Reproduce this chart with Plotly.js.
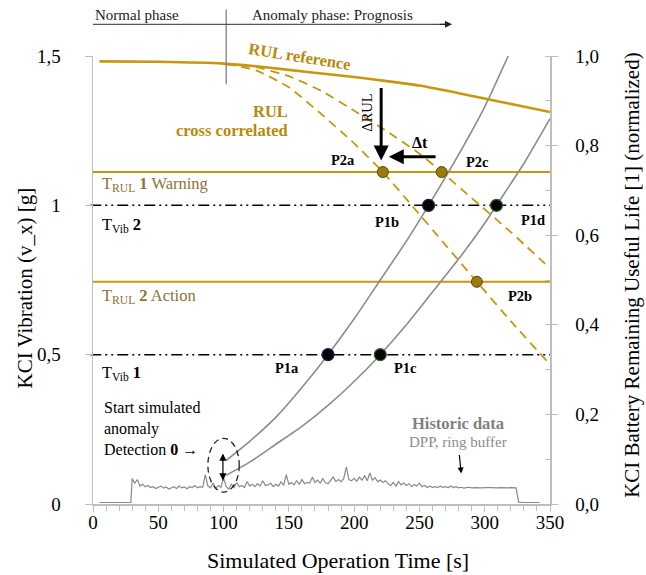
<!DOCTYPE html>
<html>
<head>
<meta charset="utf-8">
<script src="https://cdn.plot.ly/plotly-3.0.1.min.js"></script>
<style>html,body{margin:0;padding:0;background:#fff;}#chart{width:646px;height:575px;}</style>
</head>
<body>
<div id="chart"></div>
<script>
// ---- Data ----
const refTime = [5, 50, 100, 125, 150, 175, 200, 225, 250, 275, 300, 325, 350];
const rulReference = [0.988, 0.987, 0.983, 0.977, 0.969, 0.961, 0.953, 0.944, 0.934, 0.92, 0.905, 0.89, 0.875];

const crossATime = [102, 125, 150, 175, 200, 222, 244, 270, 294, 320, 348];
const rulCrossA = [0.982, 0.968, 0.93, 0.87, 0.805, 0.741, 0.667, 0.578, 0.496, 0.408, 0.318];

const crossBTime = [102, 125, 150, 175, 200, 225, 250, 267, 290, 320, 350];
const rulCrossB = [0.982, 0.975, 0.955, 0.922, 0.878, 0.832, 0.782, 0.741, 0.683, 0.607, 0.526];

const vibATime = [102, 120, 140, 160, 180, 200, 220, 240, 257, 280, 300, 318];
const vibA = [0.146, 0.21, 0.29, 0.39, 0.5, 0.62, 0.75, 0.88, 1.0, 1.17, 1.33, 1.5];

const vibBTime = [102, 120, 140, 160, 180, 200, 220, 240, 260, 280, 300, 309, 330, 350];
const vibB = [0.096, 0.14, 0.2, 0.26, 0.33, 0.41, 0.5, 0.6, 0.71, 0.82, 0.94, 1.0, 1.14, 1.29];

const histTime = [5, 29, 30, 32, 34, 36, 38, 40, 42, 44, 46, 48, 50, 52, 54, 56, 58, 60, 62, 64, 66, 68, 70,
  72, 74, 76, 78, 80, 82, 84, 86, 88, 90, 92, 94, 96, 98, 100, 102, 104, 106, 108, 110, 112, 114, 116, 118,
  120, 122, 124, 126, 128, 130, 132, 134, 136, 138, 140, 142, 144, 146, 148, 150, 152, 154, 156, 158, 160,
  162, 164, 166, 168, 170, 172, 174, 176, 178, 180, 182, 184, 186, 188, 190, 192, 194, 196, 198, 200, 202,
  204, 206, 208, 210, 212, 214, 216, 218, 220, 222, 224, 226, 228, 230, 232, 234, 236, 238, 240, 242, 244,
  246, 248, 250, 252, 254, 256, 258, 260, 262, 264, 266, 268, 270, 272, 274, 276, 278, 280, 282, 284, 286,
  288, 290, 292, 294, 296, 298, 300, 302, 304, 306, 308, 310, 312, 314, 316, 318, 320, 322, 324, 326, 330, 342];
const histVib = [0.005, 0.005, 0.085, 0.07, 0.082, 0.06, 0.066, 0.058, 0.062, 0.055, 0.058, 0.052, 0.056, 0.06,
  0.053, 0.057, 0.05, 0.055, 0.058, 0.052, 0.06, 0.054, 0.057, 0.051, 0.058, 0.055, 0.062, 0.054, 0.058, 0.056,
  0.098, 0.06, 0.055, 0.07, 0.052, 0.062, 0.056, 0.088, 0.058, 0.05, 0.066, 0.055, 0.072, 0.058, 0.062, 0.055,
  0.075, 0.06, 0.066, 0.058, 0.068, 0.06, 0.078, 0.062, 0.064, 0.07, 0.058, 0.066, 0.06, 0.074, 0.062, 0.098,
  0.066, 0.072, 0.064, 0.078, 0.066, 0.082, 0.068, 0.072, 0.07, 0.09, 0.072, 0.08, 0.07, 0.085, 0.072, 0.068,
  0.08, 0.09, 0.075, 0.082, 0.075, 0.085, 0.124, 0.082, 0.078, 0.086, 0.076, 0.09, 0.08, 0.095, 0.078, 0.104,
  0.08, 0.088, 0.075, 0.08, 0.072, 0.078, 0.068, 0.062, 0.072, 0.06, 0.075, 0.064, 0.07, 0.062, 0.068, 0.058,
  0.065, 0.06, 0.07, 0.058, 0.062, 0.055, 0.06, 0.056, 0.058, 0.055, 0.06, 0.056, 0.058, 0.054, 0.06, 0.055,
  0.058, 0.054, 0.056, 0.053, 0.055, 0.056, 0.054, 0.055, 0.055, 0.054, 0.055, 0.054, 0.055, 0.055, 0.054,
  0.055, 0.054, 0.055, 0.054, 0.055, 0.054, 0.055, 0.054, 0.054, 0.006, 0.005, 0.005];

const p1Time = [180, 257, 220, 309];
const p1Vib = [0.5, 1.0, 0.5, 1.0];
const p2Time = [222, 294, 267];
const p2Rul = [0.741, 0.496, 0.741];

const thresholdVib = [0.5, 1.0];
const thresholdRul = [0.741, 0.496];

// ---- Styles ----
const GOLD = '#C9970E';
const GOLDTXT = '#B8890A';
const OLIVE = '#8A7436';
const GRAY = '#8c8c8c';
const AXGRAY = '#bfbfbf';
const FONT = 'Liberation Serif, Times New Roman, serif';

const traces = [
  {x: histTime, y: histVib, type: 'scatter', mode: 'lines', line: {color: '#8a8a8a', width: 1.2}, hoverinfo: 'skip'},
  {x: vibATime, y: vibA, type: 'scatter', mode: 'lines', line: {color: GRAY, width: 1.6, shape: 'spline', smoothing: 0.6}},
  {x: vibBTime, y: vibB, type: 'scatter', mode: 'lines', line: {color: GRAY, width: 1.6, shape: 'spline', smoothing: 0.6}},
  {x: p1Time, y: p1Vib, type: 'scatter', mode: 'markers',
   marker: {color: '#050505', size: 12, line: {color: ['#1c1c4a', '#1c1c4a', '#2f5f2f', '#2f5f2f'], width: 1.2}}},
  {x: refTime, y: rulReference, yaxis: 'y2', type: 'scatter', mode: 'lines', line: {color: GOLD, width: 2.6, shape: 'spline', smoothing: 0.6}},
  {x: crossATime, y: rulCrossA, yaxis: 'y2', type: 'scatter', mode: 'lines', line: {color: GOLD, width: 1.8, dash: '9px,6px', shape: 'spline', smoothing: 0.5}},
  {x: crossBTime, y: rulCrossB, yaxis: 'y2', type: 'scatter', mode: 'lines', line: {color: GOLD, width: 1.8, dash: '9px,6px', shape: 'spline', smoothing: 0.5}},
  {x: p2Time, y: p2Rul, yaxis: 'y2', type: 'scatter', mode: 'markers',
   marker: {color: '#9C7A0C', size: 11, line: {color: '#5a4608', width: 1}}}
];

const shapes = [];
thresholdVib.forEach(v => shapes.push({type: 'line', xref: 'paper', yref: 'y', x0: -0.006, x1: 1, y0: v, y1: v,
  line: {color: '#000', width: 1.5, dash: '11px,4px,2px,4px,2px,4px'}, layer: 'below'}));
thresholdRul.forEach(v => shapes.push({type: 'line', xref: 'paper', yref: 'y2', x0: 0, x1: 1, y0: v, y1: v,
  line: {color: GOLD, width: 2}, layer: 'below'}));
// phase header lines
shapes.push({type: 'line', xref: 'x', yref: 'paper', x0: 102, x1: 102, y0: 0.937, y1: 1.104, line: {color: '#777', width: 1.2}});
shapes.push({type: 'line', xref: 'x', yref: 'paper', x0: 0, x1: 272, y0: 1.0708, y1: 1.0708, line: {color: '#555', width: 1.2}});
// ellipse around anomaly start
shapes.push({type: 'circle', xref: 'x', yref: 'y', x0: 88, x1: 112, y0: 0.04, y1: 0.22, line: {color: '#222', width: 1.3, dash: '6px,4px'}});

const f = (size, color, extra) => Object.assign({family: FONT, size: size, color: color || '#000'}, extra || {});

const annotations = [
  // axis titles
  {xref: 'paper', yref: 'paper', x: -0.149, y: 0.483, xanchor: 'center', yanchor: 'middle', text: 'KCI Vibration (v_x) [g]', textangle: -90, showarrow: false, font: f(21, '#000')},
  {xref: 'paper', yref: 'paper', x: 1.179, y: 0.511, xanchor: 'center', yanchor: 'middle', text: 'KCI Battery Remaining Useful Life [1] (normalized)', textangle: -90, showarrow: false, font: f(21, '#000')},
  {xref: 'paper', yref: 'paper', x: 0.536, y: -0.127, xanchor: 'center', yanchor: 'middle', text: 'Simulated Operation Time [s]', showarrow: false, font: f(22, '#000')},
  // header
  {xref: 'x', yref: 'paper', x: 0, y: 1.091, xanchor: 'left', yanchor: 'middle', text: 'Normal phase', showarrow: false, font: f(15, '#222')},
  {xref: 'x', yref: 'paper', x: 120.5, y: 1.091, xanchor: 'left', yanchor: 'middle', text: 'Anomaly phase: Prognosis', showarrow: false, font: f(15, '#222')},
  {xref: 'x', yref: 'paper', x: 275, y: 1.0708, ax: -14, ay: 0, text: '', showarrow: true, arrowhead: 2, arrowsize: 1.1, arrowwidth: 1.3, arrowcolor: '#222'},
  // RUL labels
  {xref: 'x', yref: 'y2', x: 158, y: 1.0, text: '<b>RUL reference</b>', showarrow: false, textangle: 9, font: f(16.5, GOLDTXT)},
  {xref: 'x', yref: 'y2', x: 150.5, y: 0.877, xanchor: 'right', text: '<b>RUL</b>', showarrow: false, font: f(16.5, GOLDTXT)},
  {xref: 'x', yref: 'y2', x: 150.5, y: 0.834, xanchor: 'right', text: '<b>cross correlated</b>', showarrow: false, font: f(16.5, GOLDTXT)},
  {xref: 'x', yref: 'y2', x: 210, y: 0.874, text: 'ΔRUL', showarrow: false, textangle: -90, font: f(14.5, '#000')},
  {xref: 'x', yref: 'y2', x: 220.7, y: 0.767, axref: 'x', ayref: 'y2', ax: 220.7, ay: 0.932, text: '', showarrow: true, arrowhead: 2, arrowsize: 1, arrowwidth: 3, arrowcolor: '#000'},
  {xref: 'x', yref: 'y2', x: 226.5, y: 0.775, axref: 'x', ayref: 'y2', ax: 263.5, ay: 0.775, text: '', showarrow: true, arrowhead: 2, arrowsize: 1, arrowwidth: 3, arrowcolor: '#000'},
  {xref: 'x', yref: 'y2', x: 250.6, y: 0.806, text: '<b>Δt</b>', showarrow: false, font: f(16, '#000')},
  // point labels
  {xref: 'x', yref: 'y', x: 191.5, y: 1.151, text: '<b>P2a</b>', showarrow: false, font: f(14.5, '#000')},
  {xref: 'x', yref: 'y', x: 294.1, y: 1.144, text: '<b>P2c</b>', showarrow: false, font: f(14.5, '#000')},
  {xref: 'x', yref: 'y', x: 225.2, y: 0.943, text: '<b>P1b</b>', showarrow: false, font: f(14.5, '#000')},
  {xref: 'x', yref: 'y', x: 337, y: 0.95, text: '<b>P1d</b>', showarrow: false, font: f(14.5, '#000')},
  {xref: 'x', yref: 'y', x: 327, y: 0.698, text: '<b>P2b</b>', showarrow: false, font: f(14.5, '#000')},
  {xref: 'x', yref: 'y', x: 148.7, y: 0.457, text: '<b>P1a</b>', showarrow: false, font: f(14.5, '#000')},
  {xref: 'x', yref: 'y', x: 239, y: 0.457, text: '<b>P1c</b>', showarrow: false, font: f(14.5, '#000')},
  // threshold labels
  {xref: 'x', yref: 'y', x: 5.6, y: 1.07, xanchor: 'left', text: 'T<sub>RUL</sub> <b>1</b> Warning', showarrow: false, font: f(16.5, OLIVE)},
  {xref: 'x', yref: 'y', x: 5.6, y: 0.933, xanchor: 'left', text: 'T<sub>Vib</sub> <b>2</b>', showarrow: false, font: f(16.5, '#000')},
  {xref: 'x', yref: 'y', x: 5.6, y: 0.695, xanchor: 'left', text: 'T<sub>RUL</sub> <b>2</b> Action', showarrow: false, font: f(16.5, OLIVE)},
  {xref: 'x', yref: 'y', x: 5.6, y: 0.44, xanchor: 'left', text: 'T<sub>Vib</sub> <b>1</b>', showarrow: false, font: f(16.5, '#000')},
  // anomaly start
  {xref: 'x', yref: 'y', x: 7.1, y: 0.253, xanchor: 'left', align: 'left', text: 'Start simulated<br>anomaly<br>Detection <b>0</b> →', showarrow: false, font: f(16, '#000')},
  {xref: 'x', yref: 'y', x: 99.5, y: 0.079, axref: 'x', ayref: 'y', ax: 99.5, ay: 0.174, text: '', showarrow: true, arrowhead: 2, startarrowhead: 2, arrowside: 'end+start', arrowsize: 1.2, arrowwidth: 1.2, arrowcolor: '#000'},
  // historic data
  {xref: 'x', yref: 'y', x: 279.6, y: 0.269, text: '<b>Historic data</b>', showarrow: false, font: f(16.5, '#808080')},
  {xref: 'x', yref: 'y', x: 282, y: 0.102, axref: 'x', ayref: 'y', ax: 279.6, ay: 0.206, text: 'DPP, ring buffer', showarrow: true,
   arrowhead: 2, arrowsize: 1, arrowwidth: 1.2, arrowcolor: '#000', startstandoff: 3, font: f(15, '#8c8c8c')}
];

const layout = {
  width: 646, height: 575,
  margin: {l: 93, r: 96, t: 56, b: 71},
  paper_bgcolor: '#fff', plot_bgcolor: '#fff',
  showlegend: false,
  separators: ',.',
  font: {family: FONT, size: 18, color: '#000'},
  xaxis: {
    range: [0, 350], tickvals: [0, 50, 100, 150, 200, 250, 300, 350],
    showgrid: false, zeroline: false, showline: true, linecolor: AXGRAY, linewidth: 1.5,
    ticks: 'outside', ticklen: 6, tickcolor: AXGRAY, tickwidth: 1,
    ticklabelstandoff: -5,
    minor: {dtick: 10, ticks: 'outside', ticklen: 5, tickcolor: AXGRAY},
    tickfont: {family: FONT, size: 19, color: '#000'}
  },
  yaxis: {
    range: [0, 1.5], tickvals: [0, 0.5, 1, 1.5],
    showgrid: false, zeroline: false, showline: true, linecolor: AXGRAY, linewidth: 1.5,
    ticks: 'outside', ticklen: 7, tickcolor: AXGRAY,
    ticklabelstandoff: 20,
    tickfont: {family: FONT, size: 19, color: '#000'}
  },
  yaxis2: {
    range: [0, 1.0], overlaying: 'y', side: 'right', dtick: 0.2, tick0: 0, tickformat: '.1f',
    showgrid: false, zeroline: false, showline: true, linecolor: AXGRAY, linewidth: 1.5,
    ticks: 'outside', ticklen: 6, tickcolor: AXGRAY,
    minor: {dtick: 0.1, ticks: 'inside', ticklen: 5, tickcolor: AXGRAY},
    ticklabelstandoff: 14,
    tickfont: {family: FONT, size: 19, color: '#000'}
  },
  shapes: shapes,
  annotations: annotations
};

Plotly.newPlot('chart', traces, layout, {displayModeBar: false, staticPlot: true});
</script>
</body>
</html>
